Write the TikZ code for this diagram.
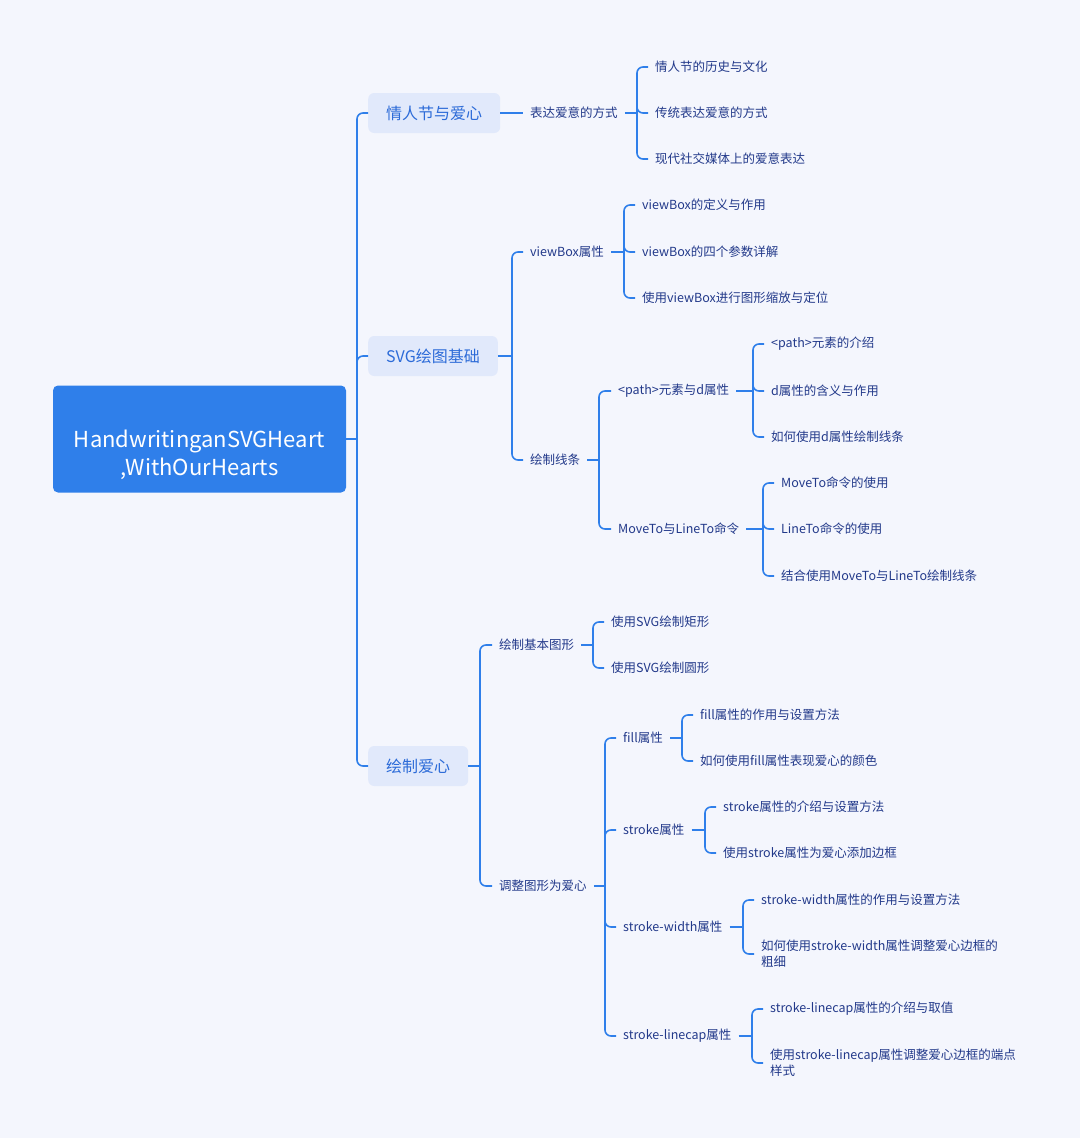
\documentclass[tikz,border=0pt]{standalone}
\usepackage{fontspec}
\setmainfont{Noto Sans CJK SC}
\definecolor{bgpage}{HTML}{F4F6FD}
\definecolor{linkblue}{HTML}{2F7FEA}
\definecolor{rootblue}{HTML}{2F7FEA}
\definecolor{topicfill}{HTML}{E1E9FB}
\definecolor{topictext}{HTML}{2C6BD8}
\definecolor{leaftext}{HTML}{22398A}
\tikzset{
  rootbox/.style={fill=rootblue, rounded corners=5pt, minimum width=293pt, minimum height=107pt, inner sep=0pt},
  roottext/.style={text=white, font=\fontsize{22}{28}\selectfont, align=center},
  topic/.style={fill=topicfill, rounded corners=6pt, text=topictext, font=\fontsize{16}{20}\selectfont, minimum height=40pt, inner xsep=18pt, anchor=west},
  leaf/.style={text=leaftext, font=\fontsize{12.5}{16}\selectfont, inner xsep=7pt, inner ysep=2pt, anchor=west, align=left},
  link/.style={draw=linkblue, line width=1.6pt},
  branch/.style={link, rounded corners=6pt},
}
\begin{document}
\begin{tikzpicture}[x=1pt, y=-1pt]
\fill[bgpage, use as bounding box] (0,0) rectangle (1080,1138);

% root and main topics
\node[rootbox] (root) at (199.5,439) {};
\node[roottext] (roottxt) at ([yshift=-16pt]root.center) {HandwritinganSVGHeart\\,WithOurHearts};
\node[topic] (t1) at (368,113) {情人节与爱心};
\node[topic] (t2) at (368,356) {SVG绘图基础};
\node[topic] (t3) at (368,766) {绘制爱心};

% 情人节与爱心
\node[leaf] (a)  at (523,113) {表达爱意的方式};
\node[leaf] (a1) at (648,67)  {情人节的历史与文化};
\node[leaf] (a2) at (648,113) {传统表达爱意的方式};
\node[leaf] (a3) at (648,159) {现代社交媒体上的爱意表达};

% SVG绘图基础
\node[leaf] (b)  at (523,252) {viewBox属性};
\node[leaf] (b1) at (635,205) {viewBox的定义与作用};
\node[leaf] (b2) at (635,252) {viewBox的四个参数详解};
\node[leaf] (b3) at (635,298) {使用viewBox进行图形缩放与定位};
\node[leaf] (c)  at (523,460) {绘制线条};
\node[leaf] (c1) at (611,391) {<path>元素与d属性};
\node[leaf] (c11) at (764,344) {<path>元素的介绍};
\node[leaf] (c12) at (764,391) {d属性的含义与作用};
\node[leaf] (c13) at (764,437) {如何使用d属性绘制线条};
\node[leaf] (c2) at (611,529) {MoveTo与LineTo命令};
\node[leaf] (c21) at (774,483) {MoveTo命令的使用};
\node[leaf] (c22) at (774,529) {LineTo命令的使用};
\node[leaf] (c23) at (774,576) {结合使用MoveTo与LineTo绘制线条};

% 绘制爱心
\node[leaf] (d)  at (492,645) {绘制基本图形};
\node[leaf] (d1) at (604,622) {使用SVG绘制矩形};
\node[leaf] (d2) at (604,668) {使用SVG绘制圆形};
\node[leaf] (e)  at (492,886) {调整图形为爱心};
\node[leaf] (e1) at (616,738) {fill属性};
\node[leaf] (e11) at (693,715) {fill属性的作用与设置方法};
\node[leaf] (e12) at (693,761) {如何使用fill属性表现爱心的颜色};
\node[leaf] (e2) at (616,830) {stroke属性};
\node[leaf] (e21) at (716,807) {stroke属性的介绍与设置方法};
\node[leaf] (e22) at (716,853) {使用stroke属性为爱心添加边框};
\node[leaf] (e3) at (616,927) {stroke-width属性};
\node[leaf] (e31) at (754,900) {stroke-width属性的作用与设置方法};
\node[leaf] (e32) at (754,954) {如何使用stroke-width属性调整爱心边框的\\粗细};
\node[leaf] (e4) at (616,1036) {stroke-linecap属性};
\node[leaf] (e41) at (763,1009) {stroke-linecap属性的介绍与取值};
\node[leaf] (e42) at (763,1063) {使用stroke-linecap属性调整爱心边框的端点\\样式};

% connectors
\draw[link] (root.east) -- (357,439) coordinate (rootj);
\draw[branch] (rootj) |- (t1.west) (rootj) |- (t2.west) (rootj) |- (t3.west);

\draw[link] (t1.east) -- (a.west);
\draw[link] (a.east) -- (637,113) coordinate (aj);
\draw[branch] (aj) |- (a1.west) (aj) |- (a2.west) (aj) |- (a3.west);

\draw[link] (t2.east) -- (512,356) coordinate (t2j);
\draw[branch] (t2j) |- (b.west) (t2j) |- (c.west);
\draw[link] (b.east) -- (624,252) coordinate (bj);
\draw[branch] (bj) |- (b1.west) (bj) |- (b2.west) (bj) |- (b3.west);
\draw[link] (c.east) -- (599,460) coordinate (cj);
\draw[branch] (cj) |- (c1.west) (cj) |- (c2.west);
\draw[link] (c1.east) -- (753,391) coordinate (c1j);
\draw[branch] (c1j) |- (c11.west) (c1j) |- (c12.west) (c1j) |- (c13.west);
\draw[link] (c2.east) -- (763,529) coordinate (c2j);
\draw[branch] (c2j) |- (c21.west) (c2j) |- (c22.west) (c2j) |- (c23.west);

\draw[link] (t3.east) -- (480,766) coordinate (t3j);
\draw[branch] (t3j) |- (d.west) (t3j) |- (e.west);
\draw[link] (d.east) -- (593,645) coordinate (dj);
\draw[branch] (dj) |- (d1.west) (dj) |- (d2.west);
\draw[link] (e.east) -- (605,886) coordinate (ej);
\draw[branch] (ej) |- (e1.west) (ej) |- (e2.west) (ej) |- (e3.west) (ej) |- (e4.west);
\draw[link] (e1.east) -- (682,738) coordinate (e1j);
\draw[branch] (e1j) |- (e11.west) (e1j) |- (e12.west);
\draw[link] (e2.east) -- (705,830) coordinate (e2j);
\draw[branch] (e2j) |- (e21.west) (e2j) |- (e22.west);
\draw[link] (e3.east) -- (743,927) coordinate (e3j);
\draw[branch] (e3j) |- (e31.west) (e3j) |- (e32.west);
\draw[link] (e4.east) -- (752,1036) coordinate (e4j);
\draw[branch] (e4j) |- (e41.west) (e4j) |- (e42.west);
\end{tikzpicture}
\end{document}
